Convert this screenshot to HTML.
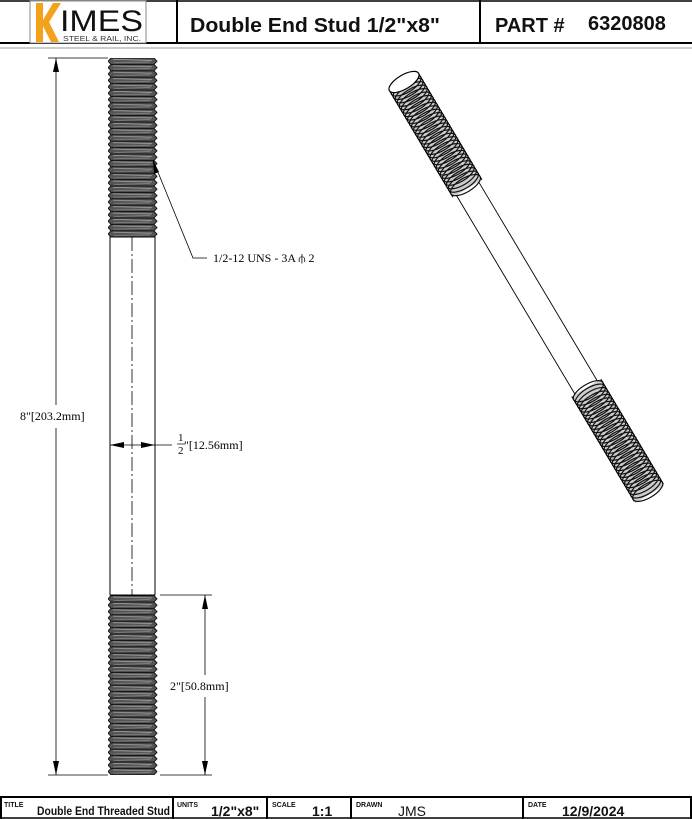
<!DOCTYPE html>
<html><head><style>
body{margin:0;background:#fff;}
svg{display:block;}
.s{font-family:"Liberation Serif",serif;}
.h text,text.h{font-family:"Liberation Sans",sans-serif;font-weight:bold;}
</style></head><body>
<svg width="692" height="819" viewBox="0 0 692 819" xmlns="http://www.w3.org/2000/svg">
<defs>
<pattern id="thr" x="108" y="58" width="50" height="6.4" patternUnits="userSpaceOnUse">
<polygon points="3,0 0,3.2 3,6.4 46,6.4 49,3.2 46,0" fill="#555" stroke="#111" stroke-width="0.9"/>
<line x1="5" y1="1.4" x2="44" y2="2.4" stroke="#bbb" stroke-width="0.7"/>
<line x1="6" y1="4.8" x2="42" y2="4.0" stroke="#999" stroke-width="0.6"/>
</pattern>
<ellipse id="e" cx="0" cy="0" rx="7" ry="17" fill="none" stroke="#111" stroke-width="1.2"/>
</defs>
<line x1="0" y1="1" x2="692" y2="1" stroke="#000" stroke-width="1.5"/>
<line x1="0" y1="43" x2="692" y2="43" stroke="#000" stroke-width="2"/>
<line x1="0" y1="48" x2="692" y2="48" stroke="#999" stroke-width="1"/>
<rect x="30" y="1" width="116" height="42" fill="#fff" stroke="#888" stroke-width="1"/>
<line x1="177" y1="0" x2="177" y2="43" stroke="#000" stroke-width="2"/>
<line x1="480" y1="0" x2="480" y2="43" stroke="#000" stroke-width="2"/>
<polygon points="36,3 43,3 43,20 53,3 61,3 49,22 59,42 51,42 43,26 43,42 36,42" fill="#f4a11c"/>
<text x="60" y="31" style="font-family:'Liberation Sans',sans-serif;font-size:30px" fill="#111" textLength="83" lengthAdjust="spacingAndGlyphs">IMES</text>
<text x="63" y="41" style="font-family:'Liberation Sans',sans-serif;font-size:7px" fill="#333" textLength="78" lengthAdjust="spacingAndGlyphs">STEEL &amp; RAIL, INC.</text>
<text x="190" y="32" class="h" font-size="20" fill="#111" textLength="250" lengthAdjust="spacingAndGlyphs">Double End Stud 1/2"x8"</text>
<text x="495" y="32" class="h" font-size="20" fill="#111">PART #</text>
<text x="588" y="30" class="h" font-size="20" fill="#111">6320808</text>
<line x1="0" y1="797" x2="692" y2="797" stroke="#000" stroke-width="2"/>
<line x1="0" y1="818" x2="692" y2="818" stroke="#000" stroke-width="1.5"/>
<g stroke="#000" stroke-width="2"><line x1="173" y1="797" x2="173" y2="819"/><line x1="267" y1="797" x2="267" y2="819"/><line x1="351" y1="797" x2="351" y2="819"/><line x1="523" y1="797" x2="523" y2="819"/><line x1="1" y1="797" x2="1" y2="819"/><line x1="691" y1="797" x2="691" y2="819"/></g>
<g class="h" fill="#111">
<text x="4" y="807" font-size="7">TITLE</text>
<text x="37" y="815" font-size="12" textLength="133" lengthAdjust="spacingAndGlyphs">Double End Threaded Stud</text>
<text x="177" y="807" font-size="7">UNITS</text>
<text x="211" y="816" font-size="14">1/2"x8"</text>
<text x="272" y="807" font-size="7">SCALE</text>
<text x="312" y="816" font-size="14">1:1</text>
<text x="356" y="807" font-size="7">DRAWN</text>
<text x="398" y="816" font-size="14" style="font-weight:normal">JMS</text>
<text x="528" y="807" font-size="7">DATE</text>
<text x="562" y="816" font-size="14">12/9/2024</text>
</g>
<rect x="108" y="58" width="50" height="179" fill="url(#thr)"/>
<rect x="108" y="595" width="50" height="180" fill="url(#thr)"/>
<rect x="110" y="237" width="45" height="358" fill="#fff" stroke="#000" stroke-width="1"/>
<line x1="132" y1="237" x2="132" y2="595" stroke="#000" stroke-width="0.8" stroke-dasharray="14,3,2,3"/>
<g stroke="#000" stroke-width="0.8" fill="none">
<line x1="48" y1="58" x2="108" y2="58"/><line x1="48" y1="775" x2="108" y2="775"/>
<line x1="56" y1="58" x2="56" y2="405"/><line x1="56" y1="428" x2="56" y2="775"/>
<line x1="160" y1="595" x2="212" y2="595"/><line x1="160" y1="775" x2="212" y2="775"/>
<line x1="205" y1="595" x2="205" y2="675"/><line x1="205" y1="697" x2="205" y2="775"/>
<line x1="110" y1="445" x2="172" y2="445"/>
<line x1="155" y1="420" x2="155" y2="460"/>
<polyline points="153,160 193,258 207,258"/>
</g>
<g fill="#000">
<polygon points="56,58 53,72 59,72"/><polygon points="56,775 53,761 59,761"/>
<polygon points="205,595 202,609 208,609"/><polygon points="205,775 202,761 208,761"/>
<polygon points="110,445 124,442 124,448"/><polygon points="155,445 141,442 141,448"/>
<polygon points="153,160 154,174 159,172"/>
</g>
<g class="s">
<text x="20" y="420" font-size="12">8"[203.2mm]</text>
<text x="170" y="690" font-size="12">2"[50.8mm]</text>
<text x="178" y="441" font-size="11">1</text>
<text x="178" y="454" font-size="11">2</text>
<text x="184" y="449" font-size="12">"[12.56mm]</text>
<text x="213" y="262" font-size="12">1/2-12 UNS - 3A ⫛ 2</text>
</g>
<line x1="177" y1="444" x2="185" y2="444" stroke="#000" stroke-width="0.7"/>
<g transform="translate(404,82) rotate(59.2)">
<line x1="120" y1="-13" x2="360" y2="-13" stroke="#000" stroke-width="0.9"/>
<line x1="120" y1="13" x2="360" y2="13" stroke="#000" stroke-width="0.9"/>
<rect x="0" y="-17" width="124" height="34" fill="#ccc"/>
<rect x="356" y="-17" width="124" height="34" fill="#ccc"/>
<use href="#e" x="4"/><use href="#e" x="8"/><use href="#e" x="12"/><use href="#e" x="16"/><use href="#e" x="20"/><use href="#e" x="24"/><use href="#e" x="28"/><use href="#e" x="32"/><use href="#e" x="36"/><use href="#e" x="40"/><use href="#e" x="44"/><use href="#e" x="48"/><use href="#e" x="52"/><use href="#e" x="56"/><use href="#e" x="60"/><use href="#e" x="64"/><use href="#e" x="68"/><use href="#e" x="72"/><use href="#e" x="76"/><use href="#e" x="80"/><use href="#e" x="84"/><use href="#e" x="88"/><use href="#e" x="92"/><use href="#e" x="96"/><use href="#e" x="100"/><use href="#e" x="104"/><use href="#e" x="108"/><use href="#e" x="112"/><use href="#e" x="116"/><use href="#e" x="120"/>
<use href="#e" x="360"/><use href="#e" x="364"/><use href="#e" x="368"/><use href="#e" x="372"/><use href="#e" x="376"/><use href="#e" x="380"/><use href="#e" x="384"/><use href="#e" x="388"/><use href="#e" x="392"/><use href="#e" x="396"/><use href="#e" x="400"/><use href="#e" x="404"/><use href="#e" x="408"/><use href="#e" x="412"/><use href="#e" x="416"/><use href="#e" x="420"/><use href="#e" x="424"/><use href="#e" x="428"/><use href="#e" x="432"/><use href="#e" x="436"/><use href="#e" x="440"/><use href="#e" x="444"/><use href="#e" x="448"/><use href="#e" x="452"/><use href="#e" x="456"/><use href="#e" x="460"/><use href="#e" x="464"/><use href="#e" x="468"/><use href="#e" x="472"/><use href="#e" x="476"/>
<line x1="0" y1="-17" x2="124" y2="-17" stroke="#000" stroke-width="0.9"/>
<line x1="0" y1="17" x2="124" y2="17" stroke="#000" stroke-width="0.9"/>
<line x1="356" y1="-17" x2="478" y2="-17" stroke="#000" stroke-width="0.9"/>
<line x1="356" y1="17" x2="478" y2="17" stroke="#000" stroke-width="0.9"/>
<ellipse cx="0" cy="0" rx="7" ry="17" fill="#fff" stroke="#000" stroke-width="1.2"/>
</g>
</svg>
</body></html>
